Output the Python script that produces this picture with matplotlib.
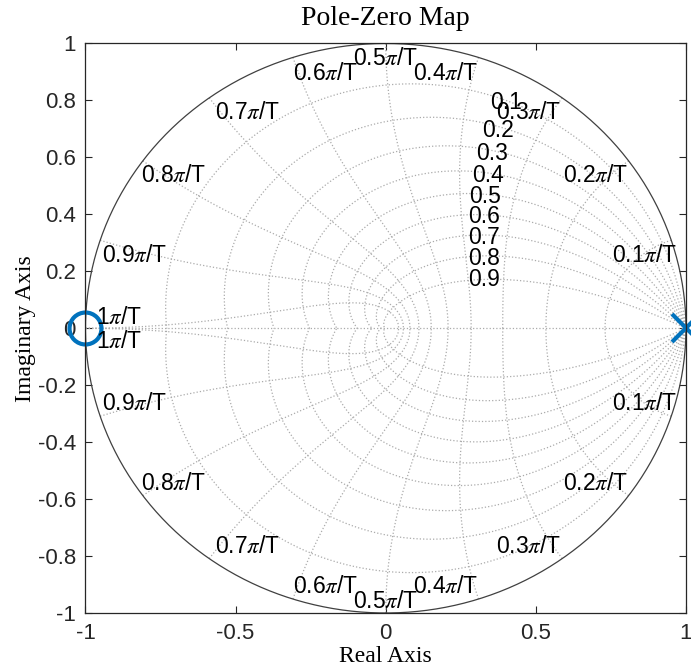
import numpy as np
import matplotlib
matplotlib.use("Agg")
import matplotlib.pyplot as plt

plt.rcParams['font.family'] = ['Liberation Sans', 'DejaVu Sans']
plt.rcParams['mathtext.fontset'] = 'stix'

# system: one pole, one zero
poles = [1.0 + 0.0j]
zeros = [-1.0 + 0.0j]

# zgrid values
zeta_vals = [0.1, 0.2, 0.3, 0.4, 0.5, 0.6, 0.7, 0.8, 0.9]
wn_vals = [0.1, 0.2, 0.3, 0.4, 0.5, 0.6, 0.7, 0.8, 0.9, 1.0]   # times pi/T
wn_names = ['0.1', '0.2', '0.3', '0.4', '0.5', '0.6', '0.7', '0.8', '0.9', '1']

# label anchor positions (layout)
wn_lab_x = [0.863, 0.700, 0.477, 0.200, 0.0, -0.202, -0.460, -0.708, -0.835, -0.888]
wn_lab_y = [0.254, 0.535, 0.756, 0.896, 0.949, 0.896, 0.756, 0.535, 0.254, 0.036]
zeta_lab_x = [0.400, 0.374, 0.354, 0.341, 0.331, 0.327, 0.327, 0.327, 0.327]
zeta_lab_y = [0.791, 0.696, 0.615, 0.535, 0.461, 0.391, 0.320, 0.246, 0.170]

grid_kw = dict(color='#ababab', linestyle=':', linewidth=0.9)
blue = '#0072BD'

fig = plt.figure(figsize=(6.91, 6.70), dpi=100)
ax = fig.add_axes([0.1237, 0.0851, 0.8690, 0.8500])

# damping ratio lines
theta = np.linspace(0, np.pi, 200)
for z in zeta_vals:
    m = np.tan(np.arcsin(z))
    zz = np.exp(theta * (-m + 1j))
    ax.plot(zz.real, zz.imag, **grid_kw)
    ax.plot(zz.real, -zz.imag, **grid_kw)

# natural frequency lines
zt = np.linspace(0, 1, 200)
for w in wn_vals:
    wn = w * np.pi
    zz = np.exp(-zt * wn + 1j * wn * np.sqrt(1 - zt ** 2))
    ax.plot(zz.real, zz.imag, **grid_kw)
    ax.plot(zz.real, -zz.imag, **grid_kw)

ax.plot([-1, 1], [0, 0], **grid_kw)

# unit circle
t = np.linspace(0, 2 * np.pi, 400)
ax.plot(np.cos(t), np.sin(t), color='#404040', linewidth=0.9)

# labels
for name, x, y in zip(wn_names, wn_lab_x, wn_lab_y):
    s = name + r'$\pi$/T'
    ax.text(x, y, s, ha='center', va='center', fontsize=16.5)
    ax.text(x, -y - 0.01, s, ha='center', va='center', fontsize=16.5)
for z, x, y in zip(zeta_vals, zeta_lab_x, zeta_lab_y):
    ax.text(x, y, str(z), ha='center', va='center', fontsize=16.5)

# poles / zeros
ax.plot([p.real for p in poles], [p.imag for p in poles], 'x', color=blue,
        markersize=20, markeredgewidth=3, clip_on=False)
ax.plot([q.real for q in zeros], [q.imag for q in zeros], 'o', color=blue,
        markersize=23, markeredgewidth=3, markerfacecolor='none', clip_on=False)

ax.set_xlim(-1, 1)
ax.set_ylim(-1, 1)
ax.set_xticks([-1, -0.5, 0, 0.5, 1])
ax.set_xticklabels(['-1', '-0.5', '0', '0.5', '1'])
ax.set_yticks(np.arange(-1, 1.01, 0.2))
ax.set_yticklabels(['-1', '-0.8', '-0.6', '-0.4', '-0.2', '0', '0.2', '0.4', '0.6', '0.8', '1'])
ax.tick_params(direction='in', length=5, width=0.8, colors='#262626', labelsize=16,
               top=True, right=True, pad=7)
for sp in ax.spines.values():
    sp.set_color('#262626')
    sp.set_linewidth(0.9)

serif = ['Liberation Serif', 'DejaVu Serif']
ax.set_title('Pole-Zero Map', family=serif, fontsize=20, pad=13)
ax.set_xlabel('Real Axis', family=serif, fontsize=17, labelpad=2)
ax.set_ylabel('Imaginary Axis', family=serif, fontsize=17, labelpad=1)

fig.savefig('out.png', dpi=100)
